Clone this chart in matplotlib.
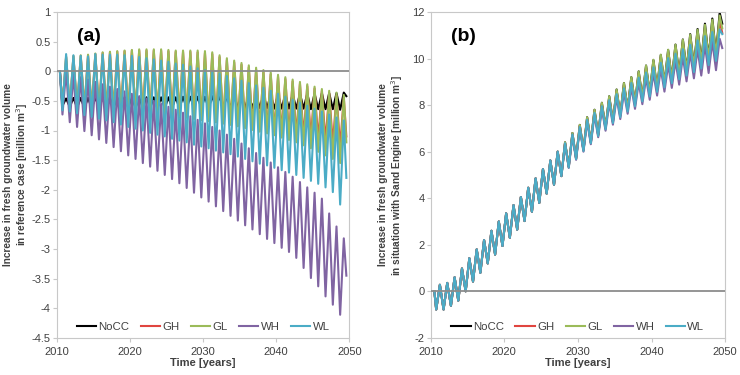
import matplotlib
matplotlib.use("Agg")
import matplotlib.pyplot as plt
from matplotlib.ticker import FuncFormatter

plt.rcParams["font.family"] = ["Liberation Sans", "DejaVu Sans"]

names = ["NoCC", "GH", "GL", "WH", "WL"]
colors = ["#000000", "#e0453f", "#9bbb59", "#8064a2", "#4bacc6"]

# panel (a): yearly peaks (2011..2049) and troughs (2010..2048), million m3
a_peaks = {
    "NoCC": [-0.46, -0.45, -0.45, -0.45, -0.44, -0.44, -0.44, -0.44, -0.44, -0.44,
             -0.44, -0.44, -0.44, -0.44, -0.44, -0.44, -0.43, -0.43, -0.43, -0.43,
             -0.42, -0.42, -0.42, -0.41, -0.41, -0.41, -0.4, -0.4, -0.4, -0.39,
             -0.39, -0.39, -0.38, -0.38, -0.38, -0.37, -0.37, -0.37, -0.36],
    "GH": [0.24, 0.25, 0.26, 0.27, 0.29, 0.31, 0.32, 0.33, 0.34, 0.35,
           0.35, 0.35, 0.35, 0.35, 0.34, 0.33, 0.33, 0.33, 0.32, 0.31,
           0.29, 0.24, 0.19, 0.15, 0.11, 0.07, 0.03, -0.01, -0.05, -0.09,
           -0.13, -0.17, -0.21, -0.25, -0.29, -0.33, -0.37, -0.41, -0.45],
    "GL": [0.25, 0.26, 0.27, 0.28, 0.3, 0.32, 0.33, 0.34, 0.35, 0.36,
           0.37, 0.37, 0.37, 0.37, 0.36, 0.35, 0.35, 0.35, 0.35, 0.34,
           0.32, 0.27, 0.22, 0.18, 0.14, 0.1, 0.06, 0.02, -0.02, -0.06,
           -0.1, -0.14, -0.18, -0.22, -0.26, -0.3, -0.33, -0.36, -0.4],
    "WH": [0.0, -0.05, -0.1, -0.14, -0.18, -0.22, -0.26, -0.3, -0.34, -0.38,
           -0.42, -0.46, -0.5, -0.55, -0.6, -0.65, -0.7, -0.76, -0.82, -0.88,
           -0.94, -1.0, -1.07, -1.14, -1.22, -1.3, -1.38, -1.46, -1.54, -1.62,
           -1.7, -1.78, -1.87, -1.96, -2.05, -2.15, -2.4, -2.62, -2.82],
    "WL": [0.29, 0.27, 0.26, 0.25, 0.29, 0.28, 0.28, 0.28, 0.27, 0.26,
           0.24, 0.22, 0.2, 0.18, 0.16, 0.13, 0.11, 0.08, 0.05, 0.02,
           -0.01, -0.04, -0.08, -0.12, -0.16, -0.2, -0.24, -0.28, -0.33, -0.38,
           -0.43, -0.48, -0.53, -0.58, -0.63, -0.68, -0.73, -0.78, -0.83],
}
a_troughs = {
    "NoCC": [-0.58, -0.6, -0.61, -0.62, -0.62, -0.62, -0.62, -0.62, -0.62, -0.62,
             -0.62, -0.62, -0.62, -0.62, -0.62, -0.62, -0.62, -0.62, -0.62, -0.62,
             -0.62, -0.62, -0.62, -0.62, -0.62, -0.62, -0.62, -0.62, -0.62, -0.63,
             -0.63, -0.63, -0.63, -0.63, -0.64, -0.64, -0.64, -0.64, -0.65],
    "GH": [-0.6, -0.62, -0.63, -0.64, -0.65, -0.66, -0.67, -0.68, -0.69, -0.7,
           -0.71, -0.72, -0.73, -0.74, -0.75, -0.76, -0.77, -0.78, -0.8, -0.82,
           -0.84, -0.86, -0.88, -0.9, -0.92, -0.94, -0.96, -0.98, -1.0, -1.02,
           -1.04, -1.06, -1.08, -1.1, -1.12, -1.15, -1.18, -1.22, -1.27],
    "GL": [-0.6, -0.62, -0.63, -0.64, -0.65, -0.66, -0.67, -0.68, -0.69, -0.7,
           -0.71, -0.72, -0.73, -0.74, -0.75, -0.76, -0.77, -0.78, -0.8, -0.82,
           -0.84, -0.86, -0.88, -0.9, -0.93, -0.96, -0.99, -1.02, -1.05, -1.08,
           -1.12, -1.16, -1.2, -1.25, -1.3, -1.36, -1.42, -1.48, -1.55],
    "WH": [-0.73, -0.86, -0.94, -1.01, -1.08, -1.15, -1.21, -1.28, -1.35, -1.42,
           -1.48, -1.55, -1.61, -1.68, -1.75, -1.82, -1.89, -1.97, -2.05, -2.13,
           -2.2, -2.28, -2.36, -2.44, -2.52, -2.6, -2.67, -2.75, -2.83, -2.9,
           -2.98, -3.05, -3.15, -3.32, -3.49, -3.63, -3.8, -3.94, -4.11],
    "WL": [-0.66, -0.68, -0.71, -0.74, -0.77, -0.8, -0.83, -0.86, -0.9, -0.94,
           -0.97, -1.0, -1.04, -1.07, -1.1, -1.14, -1.17, -1.2, -1.24, -1.27,
           -1.3, -1.34, -1.37, -1.4, -1.44, -1.48, -1.52, -1.56, -1.59, -1.63,
           -1.67, -1.71, -1.75, -1.8, -1.85, -1.9, -1.96, -2.04, -2.25],
}
a_end = {"NoCC": -0.42, "GH": -1.1, "GL": -1.2, "WH": -3.45, "WL": -1.8}

# panel (b): all scenarios coincide until 2027
b_peaks_early = [0.28, 0.36, 0.6, 0.98, 1.42, 1.8, 2.2, 2.6, 3.0, 3.35,
                 3.7, 4.05, 4.45, 4.85, 5.25, 5.62, 6.0]
b_troughs_early = [-0.78, -0.78, -0.62, -0.4, 0.0, 0.42, 0.8, 1.2, 1.58, 1.95,
                   2.3, 2.65, 3.02, 3.42, 3.8, 4.2, 4.58, 4.95]
b_peaks_late = {
    "NoCC": [6.4, 6.8, 7.15, 7.48, 7.8, 8.1, 8.38, 8.67, 8.95, 9.2, 9.45,
             9.7, 9.93, 10.15, 10.37, 10.6, 10.82, 11.05, 11.27, 11.5, 11.72, 11.97],
    "GH": [6.38, 6.77, 7.1, 7.42, 7.73, 8.02, 8.3, 8.58, 8.85, 9.1, 9.34,
           9.58, 9.82, 10.03, 10.24, 10.45, 10.65, 10.86, 11.06, 11.26, 11.46, 11.62],
    "GL": [6.4, 6.8, 7.15, 7.48, 7.8, 8.1, 8.38, 8.67, 8.95, 9.2, 9.45,
           9.7, 9.95, 10.17, 10.38, 10.6, 10.81, 11.03, 11.24, 11.45, 11.67, 11.85],
    "WH": [6.33, 6.7, 7.0, 7.3, 7.58, 7.84, 8.08, 8.32, 8.55, 8.76, 8.97,
           9.17, 9.37, 9.55, 9.73, 9.9, 10.07, 10.24, 10.41, 10.57, 10.73, 10.85],
    "WL": [6.36, 6.74, 7.06, 7.37, 7.67, 7.95, 8.21, 8.47, 8.72, 8.95, 9.18,
           9.4, 9.62, 9.82, 10.02, 10.21, 10.4, 10.59, 10.78, 10.96, 11.14, 11.25],
}
b_troughs_late = {
    "NoCC": [5.35, 5.71, 6.07, 6.4, 6.72, 7.02, 7.3, 7.57, 7.83, 8.07, 8.3,
             8.52, 8.73, 8.94, 9.14, 9.33, 9.51, 9.69, 9.86, 10.03, 10.2],
    "GH": [5.34, 5.7, 6.05, 6.38, 6.7, 6.99, 7.27, 7.53, 7.78, 8.02, 8.24,
           8.45, 8.65, 8.85, 9.04, 9.21, 9.38, 9.54, 9.7, 9.85, 10.02],
    "GL": [5.35, 5.71, 6.07, 6.4, 6.72, 7.02, 7.3, 7.57, 7.83, 8.07, 8.3,
           8.52, 8.72, 8.92, 9.12, 9.3, 9.48, 9.65, 9.82, 9.98, 10.15],
    "WH": [5.3, 5.65, 6.0, 6.32, 6.62, 6.9, 7.16, 7.4, 7.63, 7.84, 8.04,
           8.23, 8.41, 8.58, 8.74, 8.88, 9.02, 9.15, 9.27, 9.38, 9.5],
    "WL": [5.32, 5.68, 6.03, 6.36, 6.67, 6.96, 7.23, 7.48, 7.72, 7.95, 8.16,
           8.37, 8.57, 8.76, 8.94, 9.11, 9.27, 9.42, 9.57, 9.72, 9.9],
}
b_end = {"NoCC": 11.5, "GH": 11.1, "GL": 11.3, "WH": 10.45, "WL": 11.05}


def zigzag(troughs, peaks, end, start):
    # troughs fall late in each year, peaks early in the next
    t, v = [start], [0.0]
    for i in range(len(troughs)):
        t += [2010.75 + i, 2011.25 + i]
        v += [troughs[i], peaks[i]]
    t.append(2049.6)
    v.append(end)
    return t, v


fig = plt.figure(figsize=(7.4, 3.75), dpi=100)
ax_a = fig.add_axes([0.077, 0.099, 0.395, 0.869])
ax_b = fig.add_axes([0.582, 0.099, 0.398, 0.869])

for name, c in zip(names, colors):
    t, v = zigzag(a_troughs[name], a_peaks[name], a_end[name], 2010.4)
    ax_a.plot(t, v, color=c, lw=1.5, label=name)
    t, v = zigzag(b_troughs_early + b_troughs_late[name],
                  b_peaks_early + b_peaks_late[name], b_end[name], 2010.5)
    ax_b.plot(t, v, color=c, lw=1.5, label=name)

fmt = FuncFormatter(lambda x, p: "%g" % x)
for ax, lab, ylab, ylim, step, lx in [
        (ax_a, "(a)", "Increase in fresh groundwater volume\nin reference case [million m$^3$]", (-4.5, 1), 0.5, -0.094),
        (ax_b, "(b)", "Increase in fresh groundwater volume\nin situation with Sand Engine [million m$^3$]", (-2, 12), 2, -0.088)]:
    ax.axhline(0, color="#8c8c8c", lw=1.3, zorder=5)
    ax.set_xlim(2010, 2050)
    ax.set_ylim(*ylim)
    n = int(round((ylim[1] - ylim[0]) / step))
    ax.set_yticks([ylim[0] + i * step for i in range(n + 1)])
    ax.set_xticks([2010, 2020, 2030, 2040, 2050])
    ax.yaxis.set_major_formatter(fmt)
    for s in ax.spines.values():
        s.set_color("#c8c8c8")
        s.set_linewidth(0.8)
    ax.tick_params(colors="#c8c8c8", labelcolor="#404040", labelsize=8, length=3, width=0.8)
    ax.tick_params(axis="y", pad=1.5)
    ax.set_xlabel("Time [years]", fontsize=8, fontweight="bold", color="#404040", labelpad=1)
    ax.set_ylabel(ylab, fontsize=7.3, fontweight="bold", color="#404040", linespacing=1.05)
    ax.yaxis.set_label_coords(lx, 0.5)
    ax.text(0.07, 0.925, lab, transform=ax.transAxes, fontsize=14, fontweight="bold", va="center")
    ax.legend(loc="lower center", bbox_to_anchor=(0.5, -0.012), ncol=5, frameon=False,
              fontsize=8.2, handlelength=1.7, handletextpad=0.2, columnspacing=1.0,
              labelcolor="#404040")

fig.savefig("out.png", dpi=100)
